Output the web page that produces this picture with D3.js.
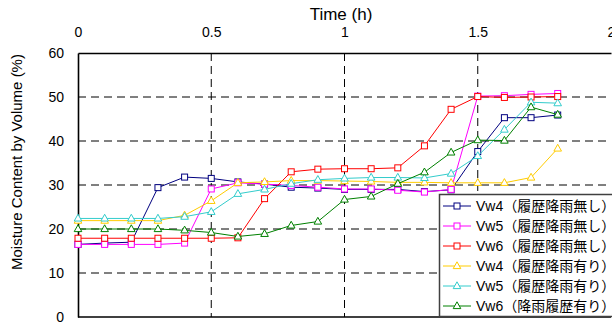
<!DOCTYPE html>
<html>
<head>
<meta charset="utf-8">
<script src="https://cdn.jsdelivr.net/npm/d3@7"></script>
<style>
  html, body { margin: 0; padding: 0; background: #fff; }
  svg { display: block; }
  text { font-family: "Liberation Sans", Arial, "Noto Sans CJK JP", sans-serif; fill: #000; }
</style>
</head>
<body>
<svg id="chart" width="612" height="322"></svg>
<script>
// Elapsed time (h) for each measurement
const times = [0, 0.1, 0.2, 0.3, 0.4, 0.5, 0.6, 0.7, 0.8, 0.9, 1.0, 1.1, 1.2, 1.3, 1.4, 1.5, 1.6, 1.7, 1.8];

// Volumetric moisture content (%) per sensor
const vw4None = [16.5, 16.8, 17.0, 29.4, 31.8, 31.5, 30.7, 30.2, 29.5, 29.3, 29.0, 29.0, 29.0, 28.5, 28.9, 37.6, 45.3, 45.3, 45.9];
const vw5None = [16.5, 16.5, 16.5, 16.5, 16.8, 29.1, 30.5, 30.2, 29.9, 29.5, 29.1, 29.1, 28.8, 28.4, 29.0, 50.2, 50.3, 50.6, 50.8];
const vw6None = [17.9, 17.9, 17.9, 17.9, 17.9, 17.9, 18.0, 26.9, 33.0, 33.6, 33.7, 33.7, 33.9, 38.9, 47.2, 50.1, 49.9, 50.0, 50.1];
const vw4Rain = [21.9, 21.9, 21.9, 21.9, 23.1, 26.4, 30.5, 30.7, 31.0, 31.0, 30.9, 30.8, 30.6, 30.6, 30.5, 30.5, 30.5, 31.7, 38.3];
const vw5Rain = [22.4, 22.4, 22.4, 22.4, 22.8, 23.9, 28.0, 29.0, 30.3, 31.2, 31.5, 31.7, 31.7, 31.6, 32.6, 36.6, 42.6, 48.8, 48.6];
const vw6Rain = [20.0, 20.0, 20.0, 20.0, 19.7, 19.2, 18.3, 18.9, 20.8, 21.7, 26.7, 27.4, 30.3, 32.9, 37.4, 40.2, 40.1, 47.7, 46.0];

const seriesNames = [
  "Vw4（履歴降雨無し）", "Vw5（履歴降雨無し）", "Vw6（履歴降雨無し）",
  "Vw4（履歴降雨有り）", "Vw5（履歴降雨有り）", "Vw6（降雨履歴有り）"
];
const seriesValues = [vw4None, vw5None, vw6None, vw4Rain, vw5Rain, vw6Rain];
const seriesColors = ["#000080", "#FF00FF", "#FF0000", "#FFCC00", "#33CCCC", "#008000"];
const seriesMarkers = ["square", "square", "square", "triangle", "triangle", "triangle"];

const xTicks = [0, 0.5, 1, 1.5, 2];
const yTicks = [0, 10, 20, 30, 40, 50, 60];

const svg = d3.select("#chart");
const plotL = 78, plotR = 611, plotT = 53, plotB = 317;

const x = d3.scaleLinear().domain([0, 2]).range([plotL, plotR]);
const y = d3.scaleLinear().domain([0, 60]).range([plotB, plotT]);

// dashed grid
const grid = svg.append("g").attr("stroke", "#000").attr("stroke-width", 1).attr("stroke-dasharray", "8,5");
grid.selectAll("line.h").data(yTicks.filter(d => d > 0 && d < 60)).join("line")
  .attr("x1", plotL).attr("x2", plotR).attr("y1", d => y(d)).attr("y2", d => y(d));
grid.selectAll("line.v").data(xTicks.filter(d => d > 0 && d < 2)).join("line")
  .attr("x1", d => x(d)).attr("x2", d => x(d)).attr("y1", plotT).attr("y2", plotB);

// axes
const xAxis = svg.append("g").attr("transform", `translate(0,${plotT})`)
  .call(d3.axisTop(x).tickValues(xTicks).tickSize(0).tickPadding(16).tickFormat(d3.format("")));
const yAxis = svg.append("g").attr("transform", `translate(${plotL},0)`)
  .call(d3.axisLeft(y).tickValues(yTicks).tickSize(0).tickPadding(14));
[xAxis, yAxis].forEach(a => {
  a.select(".domain").attr("stroke", "#000").attr("stroke-width", 1.6);
  a.selectAll("text").attr("font-size", 14).attr("font-family", "'Liberation Sans', Arial, sans-serif");
});
svg.append("line").attr("x1", plotL).attr("x2", plotR).attr("y1", plotB).attr("y2", plotB)
  .attr("stroke", "#000").attr("stroke-width", 1.6);

// titles
svg.append("text").attr("x", 341).attr("y", 20).attr("text-anchor", "middle")
  .attr("font-size", 17).text("Time (h)");
svg.append("text").attr("transform", "translate(22,162) rotate(-90)").attr("text-anchor", "middle")
  .attr("font-size", 15).text("Moisture Content by Volume (%)");

function drawMarker(g, kind, color) {
  if (kind === "square") {
    g.append("rect").attr("x", -3).attr("y", -3).attr("width", 6).attr("height", 6)
      .attr("fill", "#fff").attr("stroke", color).attr("stroke-width", 1);
  } else {
    g.append("path").attr("d", "M0,-4.2L3.8,2.6L-3.8,2.6Z")
      .attr("fill", "#fff").attr("stroke", color).attr("stroke-width", 1);
  }
}

// series
const line = d3.line().x(d => x(d[0])).y(d => y(d[1]));
seriesValues.forEach((vals, i) => {
  const pts = times.map((t, k) => [t, vals[k]]);
  const g = svg.append("g");
  g.append("path").datum(pts).attr("d", line).attr("fill", "none")
    .attr("stroke", seriesColors[i]).attr("stroke-width", 1);
  pts.forEach(p => {
    const m = g.append("g").attr("transform", `translate(${x(p[0])},${y(p[1])})`);
    drawMarker(m, seriesMarkers[i], seriesColors[i]);
  });
});

// legend
const lg = svg.append("g");
lg.append("rect").attr("x", 439.5).attr("y", 194.5).attr("width", 180).attr("height", 122)
  .attr("fill", "#fff").attr("stroke", "#404040").attr("stroke-width", 1.5);
seriesNames.forEach((name, i) => {
  const cy = 206 + i * 20;
  lg.append("line").attr("x1", 443).attr("x2", 471).attr("y1", cy).attr("y2", cy)
    .attr("stroke", seriesColors[i]).attr("stroke-width", 1);
  const m = lg.append("g").attr("transform", `translate(457,${cy})`);
  drawMarker(m, seriesMarkers[i], seriesColors[i]);
  lg.append("text").attr("x", 476).attr("y", cy + 5).attr("font-size", 14)
    .attr("font-family", "'Liberation Sans', 'Noto Sans CJK JP', sans-serif").text(name);
});
</script>
</body>
</html>
